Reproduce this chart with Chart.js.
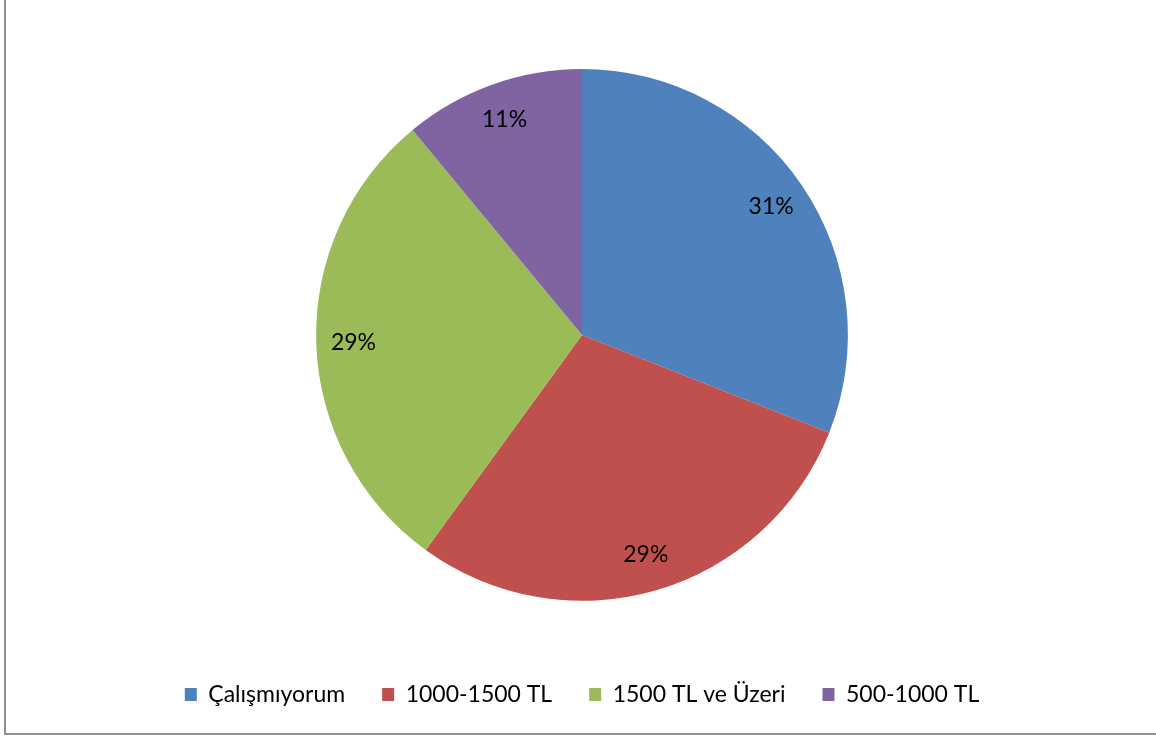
<!DOCTYPE html>
<html>
<head>
<meta charset="utf-8">
<script src="https://cdn.jsdelivr.net/npm/chart.js@4/dist/chart.umd.min.js"></script>
<style>
  html, body { margin: 0; padding: 0; background: #ffffff; }
  #wrap { width: 1156px; height: 738px; position: relative; }
</style>
</head>
<body>
<div id="wrap"><canvas id="pie" width="1156" height="738"></canvas></div>
<script>
// Income groups and their shares (%)
const categories = ['Çalışmıyorum', '1000-1500 TL', '1500 TL ve Üzeri', '500-1000 TL'];
const shares = [31, 29, 29, 11];
const sliceColors = ['#4F81BD', '#C0504D', '#9BBB59', '#8064A2'];

const FONT = 'Lato, "Open Sans", sans-serif';

// Percentage labels placed inside each slice, near the rim
const sliceLabels = {
  id: 'sliceLabels',
  afterDatasetsDraw(chart) {
    const ctx = chart.ctx;
    const meta = chart.getDatasetMeta(0);
    const data = chart.data.datasets[0].data;
    ctx.save();
    ctx.fillStyle = '#000000';
    ctx.font = '23px ' + FONT;
    ctx.textAlign = 'center';
    ctx.textBaseline = 'middle';
    meta.data.forEach((arc, i) => {
      const p = arc.getProps(['x', 'y', 'startAngle', 'endAngle', 'outerRadius'], true);
      const mid = (p.startAngle + p.endAngle) / 2;
      const r = p.outerRadius * 0.86;
      ctx.fillText(data[i] + '%', p.x + Math.cos(mid) * r, p.y + Math.sin(mid) * r);
    });
    ctx.restore();
  }
};

// Grey frame along the left and bottom edges of the chart area
const frame = {
  id: 'frame',
  beforeDraw(chart) {
    const ctx = chart.ctx;
    ctx.save();
    ctx.strokeStyle = '#8f8f8f';
    ctx.lineWidth = 2;
    ctx.beginPath();
    ctx.moveTo(5, 0);
    ctx.lineTo(5, 734);
    ctx.lineTo(1156, 734);
    ctx.stroke();
    ctx.restore();
  }
};

new Chart(document.getElementById('pie'), {
  type: 'pie',
  data: {
    labels: categories,
    datasets: [{
      data: shares,
      backgroundColor: sliceColors,
      borderWidth: 0
    }]
  },
  options: {
    responsive: false,
    animation: false,
    layout: { padding: { top: 69, left: 8, right: 0, bottom: 22 } },
    plugins: {
      tooltip: { enabled: false },
      legend: {
        position: 'bottom',
        title: {
          display: true,
          text: '',
          font: { size: 1 },
          padding: { top: 0, bottom: 44 }
        },
        labels: {
          boxWidth: 12,
          boxHeight: 13,
          padding: 37,
          color: '#000000',
          font: { family: FONT, size: 23 }
        }
      }
    }
  },
  plugins: [sliceLabels, frame]
});
</script>
</body>
</html>
